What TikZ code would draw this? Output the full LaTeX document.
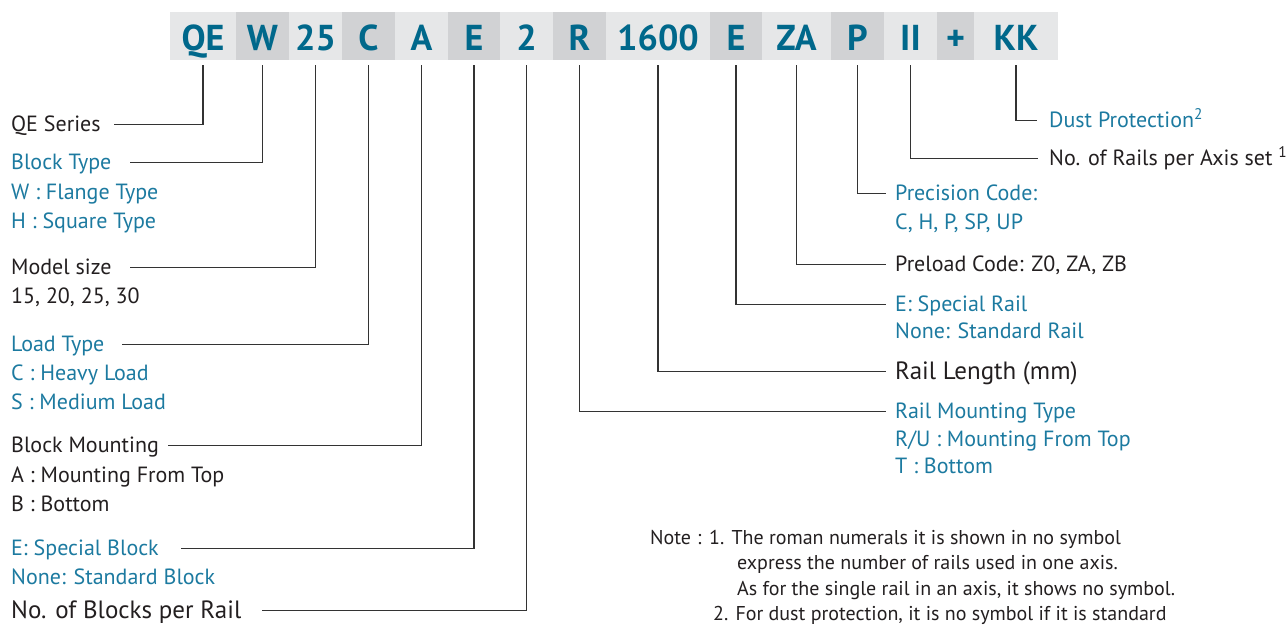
\documentclass[tikz,border=0pt]{standalone}
\usepackage{fontspec}
\setmainfont{PT Sans}
\usetikzlibrary{positioning}

\definecolor{codeblue}{RGB}{0,104,139}
\definecolor{labelblue}{RGB}{28,122,160}
\definecolor{textgray}{RGB}{35,31,32}
\definecolor{celllight}{RGB}{230,231,232}
\definecolor{celldark}{RGB}{209,210,212}
\definecolor{linegray}{RGB}{51,51,51}

\tikzset{
  cell/.style={rectangle, minimum height=48pt, inner sep=0pt, text height=28pt, text depth=0pt,
    font=\fontsize{36}{36}\selectfont\bfseries, text=codeblue},
  lbl/.style={anchor=base west, inner sep=0pt, text height=15.4pt, text depth=3pt,
    font=\fontsize{22}{22}\selectfont, text=textgray},
  blbl/.style={lbl, text=labelblue},
  biglbl/.style={lbl, text height=17.5pt, font=\fontsize{25}{25}\selectfont},
  notetxt/.style={anchor=base west, inner sep=0pt, font=\fontsize{20}{20}\selectfont, text=textgray},
  conn/.style={draw=linegray, line width=1.1pt}
}

\begin{document}
\begin{tikzpicture}[x=1pt,y=-1pt]
        \useasboundingbox (0,0) rectangle (1288,625);
        \foreach \nm/\txt/\cx/\w/\fl in {QE/QE/203/66/celllight, W/W/262.5/53/celldark,
            25/25/315.5/53/celllight, C/C/368.5/53/celldark, A/A/421.5/53/celllight,
            E/E/474/52/celldark, 2/2/526.5/53/celllight, R/R/579.5/53/celldark,
            1600/1600/658/104/celllight, Er/E/736/52/celldark, ZA/ZA/796.5/69/celllight,
            P/P/857.5/53/celldark, II/II/910.5/53/celllight, plus/+/955.5/37/celldark,
            KK/KK/1016/84/celllight}
            \node[cell, minimum width=\w, fill=\fl] (c\nm) at (\cx,36) {\txt};

        \node[lbl] (lQE) at (11,131) {QE Series};
        \node[blbl] (lW) at (11,169) {Block Type};
        \node[blbl] (lW1) at (11,199) {W : Flange Type};
        \node[blbl] (lW2) at (11,228) {H : Square Type};
        \node[lbl] (l25) at (11,274) {Model size};
        \node[lbl] (l251) at (11,303) {15, 20, 25, 30};
        \node[blbl] (lC) at (11,351) {Load Type};
        \node[blbl] (lC1) at (11,380) {C : Heavy Load};
        \node[blbl] (lC2) at (11,409) {S : Medium Load};
        \node[lbl] (lA) at (11,452) {Block Mounting};
        \node[lbl] (lA1) at (11,482) {A : Mounting From Top};
        \node[lbl] (lA2) at (11,511) {B : Bottom};
        \node[blbl] (lE) at (11,555) {E: Special Block};
        \node[blbl] (lE1) at (11,584) {None: Standard Block};
        \node[biglbl] (l2) at (11,618) {No. of Blocks per Rail};

        \node[blbl] (lKK) at (1049,127) {Dust Protection\textsuperscript{2}};
        \node[lbl] (lII) at (1049,165) {No. of Rails per Axis set \textsuperscript{1}};
        \node[blbl] (lP) at (895,200) {Precision Code:};
        \node[blbl] (lP1) at (895,229) {C, H, P, SP, UP};
        \node[lbl] (lZA) at (895,271) {Preload Code: Z0, ZA, ZB};
        \node[blbl] (lEr) at (895,311) {E: Special Rail};
        \node[blbl] (lEr1) at (895,338) {None: Standard Rail};
        \node[biglbl] (l1600) at (895,379) {Rail Length (mm)};
        \node[blbl] (lR) at (895,418) {Rail Mounting Type};
        \node[blbl] (lR1) at (895,446) {R/U : Mounting From Top};
        \node[blbl] (lR2) at (895,473) {T : Bottom};

        \node[notetxt] (nNote) at (650,544) {Note};
        \node[notetxt] (nColon) at (697,544) {:};
        \node[notetxt] (n1) at (709,544) {1. The roman numerals it is shown in no symbol};
        \node[notetxt] (n1a) at (737,569.5) {express the number of rails used in one axis.};
        \node[notetxt] (n1b) at (737,595) {As for the single rail in an axis, it shows no symbol.};
        \node[notetxt] (n2) at (713,620) {2. For dust protection, it is no symbol if it is standard};

        \draw[conn] ([yshift=-5pt]cQE.south) |- ([xshift=13pt]lQE.east);
        \draw[conn] ([yshift=-5pt]cW.south) |- ([xshift=18pt]lW.east);
        \draw[conn] ([yshift=-5pt]c25.south) |- ([xshift=18pt]l25.east);
        \draw[conn] ([yshift=-5pt]cC.south) |- ([xshift=17pt]lC.east);
        \draw[conn] ([yshift=-5pt]cA.south) |- ([xshift=9pt]lA.east);
        \draw[conn] ([yshift=-5pt]cE.south) |- ([xshift=22pt]lE.east);
        \draw[conn] ([yshift=-5pt]c2.south) |- ([xshift=20pt]l2.east);

        \draw[conn] ([yshift=-5pt]cKK.south) |- ([xshift=-12pt]lKK.west);
        \draw[conn] ([yshift=-5pt]cII.south) |- ([xshift=-11pt]lII.west);
        \draw[conn] ([yshift=-5pt]cP.south) |- ([xshift=-9pt]lP.west);
        \draw[conn] ([yshift=-5pt]cZA.south) |- ([xshift=-9pt]lZA.west);
        \draw[conn] ([yshift=-5pt]cEr.south) |- ([xshift=-9pt]lEr.west);
        \draw[conn] ([yshift=-5pt]c1600.south) |- ([xshift=-9pt]l1600.west);
        \draw[conn] ([yshift=-5pt]cR.south) |- ([xshift=-9pt]lR.west);
\end{tikzpicture}
\end{document}
